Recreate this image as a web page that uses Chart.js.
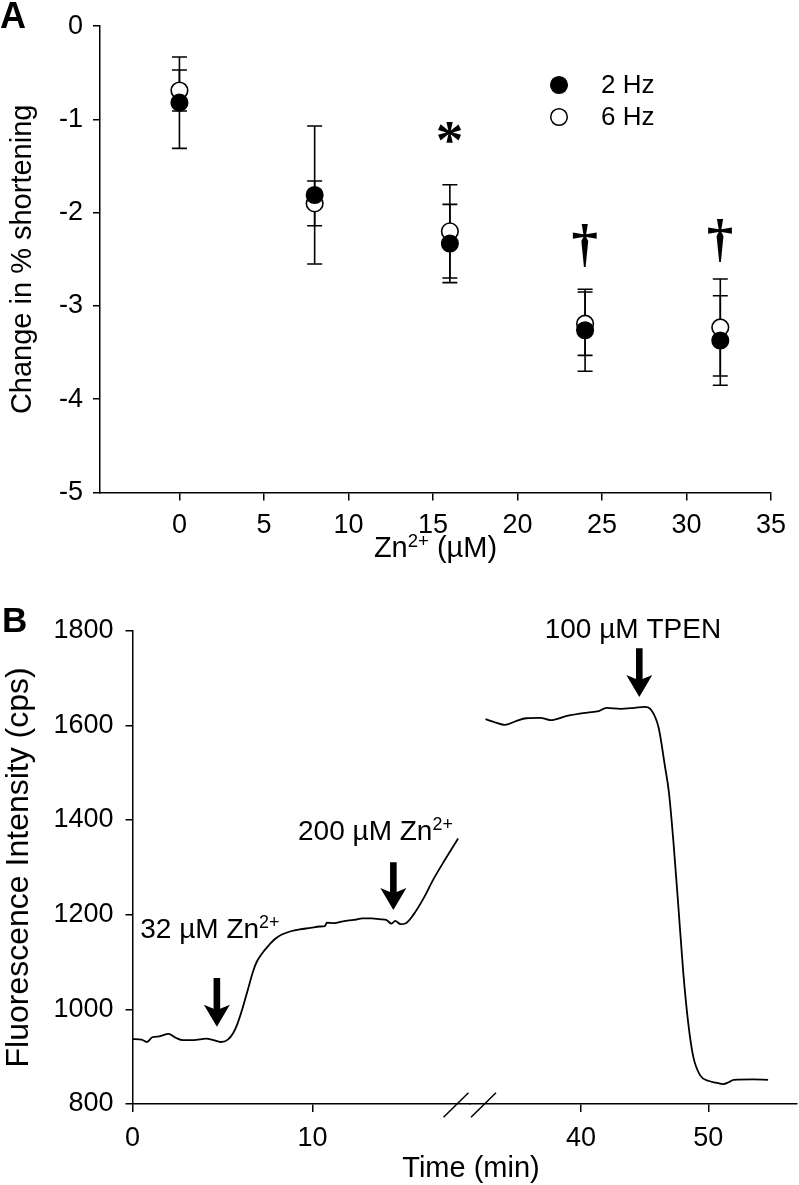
<!DOCTYPE html>
<html><head><meta charset="utf-8">
<script src="https://cdn.jsdelivr.net/npm/chart.js@4.4.1/dist/chart.umd.min.js"></script>
<style>
html,body{margin:0;padding:0;background:#fff;}
body{width:799px;height:1185px;position:relative;overflow:hidden;}
#wa{position:absolute;left:0;top:0;width:799px;height:580px;}
#wb{position:absolute;left:0;top:580px;width:799px;height:605px;}
</style></head><body>
<div id="wa"><canvas id="ca"></canvas></div>
<div id="wb"><canvas id="cb"></canvas></div>
<script>
// ---------- Panel A data ----------
const znConc = [0, 8, 16, 24, 32];
const shortening2Hz = [-0.82, -1.81, -2.33, -3.26, -3.37];
const err2Hz = [0.49, 0.74, 0.42, 0.44, 0.48];
const shortening6Hz = [-0.69, -1.90, -2.20, -3.19, -3.23];
const err6Hz = [0.22, 0.24, 0.50, 0.34, 0.52];
const xTicksA = [0, 5, 10, 15, 20, 25, 30, 35];
const yTicksA = [0, -1, -2, -3, -4, -5];
const seriesNames = ['2 Hz', '6 Hz'];
const markX = [16, 24, 32];
const markY = [-1.29, -2.35, -2.30];
const markText = ['*', '\u2020', '\u2020'];

// ---------- Panel B data ----------
const timeEarly = [0.0,0.5,0.8,1.1,1.5,2.0,2.4,2.8,3.4,4.1,4.5,4.9,5.3,5.6,5.8,6.1,6.4,6.7,6.9,7.2,7.5,7.9,8.3,8.8,9.3,9.9,10.4,10.7,10.8,11.2,11.7,12.3,12.8,13.3,13.8,14.1,14.4,14.6,14.9,15.2,15.6,16.2,16.7,17.4,18.1];
const fluorEarly = [937,936,931,941,943,948,940,935,935,938,935,931,936,950,966,1000,1040,1080,1100,1118,1132,1148,1158,1165,1169,1172,1175,1176,1183,1182,1186,1189,1192,1192,1190,1189,1181,1187,1180,1182,1199,1236,1273,1318,1361];
const timeLate = [32.5,33.3,34.0,34.9,35.7,36.8,37.6,38.9,40.5,41.4,42.0,43.1,44.2,45.0,45.5,46.1,46.6,46.9,47.25,47.65,48.04,48.43,48.82,49.35,50.0,50.6,51.2,51.6,52.0,53.5,54.7];
const fluorLate = [1613,1606,1601,1609,1615,1616,1611,1620,1627,1630,1637,1635,1637,1639,1633,1595,1513,1460,1358,1217,1076,970,900,861,849,845,842,846,851,852,851];
const xTicksEarly = [0, 10];
const xTicksLate = [40, 50];
const yTicksB = [800, 1000, 1200, 1400, 1600, 1800];
// arrows: axis, time, top value, tip value
const arrowAxis = ['xEarly', 'xEarly', 'xLate'];
const arrowTime = [4.69, 14.5, 44.58];
const arrowTop = [1066, 1311, 1763];
const arrowTip = [963, 1210, 1660];
// labels
const labelAxis = ['xEarly', 'xEarly', 'xLate'];
const labelTime = [0.43, 9.2, 44.08];
const labelValue = [1151, 1358, 1785];
const labelAlign = ['left', 'left', 'center'];
const labelParts = [
  [['32 \u00b5M Zn', false], ['2+', true]],
  [['200 \u00b5M Zn', false], ['2+', true]],
  [['100 \u00b5M TPEN', false]]
];

const FONT = "'Liberation Sans', Arial, Helvetica, sans-serif";
const SERIF = "'Liberation Serif', 'Times New Roman', serif";
Chart.defaults.font.family = FONT;
Chart.defaults.color = '#000';

function drawRich(ctx, parts, x, y, size, align) {
  const widths = parts.map(p => { ctx.font = (p[1] ? size * 0.64 : size) + 'px ' + FONT; return ctx.measureText(p[0]).width; });
  const total = widths.reduce((a, b) => a + b, 0);
  let cx = align === 'center' ? x - total / 2 : x;
  ctx.textAlign = 'left'; ctx.textBaseline = 'alphabetic'; ctx.fillStyle = '#000';
  parts.forEach((p, i) => {
    ctx.font = (p[1] ? size * 0.64 : size) + 'px ' + FONT;
    ctx.fillText(p[0], cx, p[1] ? y - size * 0.34 : y);
    cx += widths[i];
  });
}
function drawGlyph(ctx, ch, cx, cy, h, family) {
  ctx.font = 'bold 100px ' + family;
  const m = ctx.measureText(ch);
  const gh = m.actualBoundingBoxAscent + m.actualBoundingBoxDescent;
  const size = 100 * h / gh;
  ctx.font = 'bold ' + size + 'px ' + family;
  const m2 = ctx.measureText(ch);
  ctx.textAlign = 'left'; ctx.textBaseline = 'alphabetic';
  const x = cx - (m2.actualBoundingBoxRight - m2.actualBoundingBoxLeft) / 2;
  const y = cy - (m2.actualBoundingBoxDescent - m2.actualBoundingBoxAscent) / 2;
  ctx.fillText(ch, x, y);
}
function fixedTicks(arr) { return s => { s.ticks = arr.map(v => ({ value: v })); }; }
const plainLabel = v => String(v);
const gridStyle = (len) => ({ drawOnChartArea: false, tickLength: len, color: '#000', lineWidth: 1.5 });
const borderStyle = { color: '#000', width: 1.5 };

// ---------- Panel A ----------
const errorBars = {
  id: 'errorBars',
  beforeDatasetsDraw(chart) {
    const { ctx, scales: { x, y } } = chart;
    ctx.save(); ctx.strokeStyle = '#000'; ctx.lineWidth = 1.6;
    chart.data.datasets.forEach(ds => {
      ds.data.forEach((p, i) => {
        const e = ds.errors[i];
        const px = x.getPixelForValue(p.x);
        const t = y.getPixelForValue(p.y + e), b = y.getPixelForValue(p.y - e);
        ctx.beginPath();
        ctx.moveTo(px, t); ctx.lineTo(px, b);
        ctx.moveTo(px - 7.5, t); ctx.lineTo(px + 7.5, t);
        ctx.moveTo(px - 7.5, b); ctx.lineTo(px + 7.5, b);
        ctx.stroke();
      });
    });
    ctx.restore();
  }
};
const annotA = {
  id: 'annotA',
  afterDraw(chart) {
    const { ctx, scales: { x, y }, chartArea } = chart;
    ctx.save();
    ctx.fillStyle = '#000';
    ctx.font = 'bold 36px ' + FONT; ctx.textAlign = 'left'; ctx.textBaseline = 'alphabetic';
    ctx.fillText('A', 0, 28);
    // legend
    const ly = [85, 117];
    chart.data.datasets.forEach((ds, i) => {
      ctx.beginPath(); ctx.arc(559, ly[i], 8.3, 0, Math.PI * 2);
      ctx.fillStyle = ds.pointBackgroundColor; ctx.fill();
      ctx.lineWidth = 1.5; ctx.strokeStyle = '#000'; ctx.stroke();
      ctx.fillStyle = '#000'; ctx.font = '26px ' + FONT; ctx.textBaseline = 'middle';
      ctx.fillText(ds.label, 601, ly[i] + 1);
    });
    // significance marks
    markX.forEach((mx, i) => {
      const h = markText[i] === '*' ? 21 : 43;
      drawGlyph(ctx, markText[i], x.getPixelForValue(mx), y.getPixelForValue(markY[i]), h, SERIF);
    });
    // x title
    drawRich(ctx, [['Zn', false], ['2+', true], [' (\u00b5M)', false]], (chartArea.left + chartArea.right) / 2, 557, 29, 'center');
    ctx.restore();
  }
};
new Chart(document.getElementById('ca'), {
  type: 'scatter',
  data: {
    datasets: [
      { label: seriesNames[0], data: znConc.map((v, i) => ({ x: v, y: shortening2Hz[i] })), errors: err2Hz,
        pointBackgroundColor: '#000', pointBorderColor: '#000', pointRadius: 8.3, pointBorderWidth: 1.5, pointHoverRadius: 8.3 },
      { label: seriesNames[1], data: znConc.map((v, i) => ({ x: v, y: shortening6Hz[i] })), errors: err6Hz,
        pointBackgroundColor: '#fff', pointBorderColor: '#000', pointRadius: 8.3, pointBorderWidth: 1.6, pointHoverRadius: 8.3 }
    ]
  },
  options: {
    responsive: true, maintainAspectRatio: false, animation: false, events: [],
    layout: { padding: { top: 15, right: 28, left: 0, bottom: 0 } },
    plugins: { legend: { display: false }, tooltip: { enabled: false } },
    scales: {
      x: { type: 'linear', min: -4.7, max: 35, afterBuildTicks: fixedTicks(xTicksA), afterFit: s => { s.height = 87.5; },
           grid: gridStyle(8), border: borderStyle, ticks: { font: { size: 27 }, padding: 9, color: '#000', maxRotation: 0, callback: plainLabel } },
      y: { type: 'linear', min: -5, max: 0, afterBuildTicks: fixedTicks(yTicksA), afterFit: s => { s.width = 100; },
           grid: gridStyle(7), border: borderStyle, ticks: { font: { size: 27 }, padding: 10, color: '#000', callback: plainLabel },
           title: { display: true, text: 'Change in % shortening', font: { size: 29 }, color: '#000', padding: { top: 6, bottom: 0 } } }
    }
  },
  plugins: [errorBars, annotA]
});

// ---------- Panel B ----------
const annotB = {
  id: 'annotB',
  afterDraw(chart) {
    const { ctx, scales, chartArea } = chart;
    const y = scales.y;
    ctx.save();
    ctx.fillStyle = '#000';
    ctx.font = 'bold 35px ' + FONT; ctx.textAlign = 'left'; ctx.textBaseline = 'alphabetic';
    ctx.fillText('B', 2, 52);
    // arrows
    arrowTime.forEach((t, i) => {
      const px = scales[arrowAxis[i]].getPixelForValue(t);
      const top = y.getPixelForValue(arrowTop[i]), tip = y.getPixelForValue(arrowTip[i]);
      const hw = 13, hl = 22, sw = 3.3;
      ctx.beginPath();
      ctx.moveTo(px - sw, top); ctx.lineTo(px + sw, top);
      ctx.lineTo(px + sw, tip - hl + 4); ctx.lineTo(px + hw, tip - hl);
      ctx.lineTo(px, tip); ctx.lineTo(px - hw, tip - hl);
      ctx.lineTo(px - sw, tip - hl + 4); ctx.closePath();
      ctx.fill();
    });
    // labels
    labelTime.forEach((t, i) => {
      drawRich(ctx, labelParts[i], scales[labelAxis[i]].getPixelForValue(t), y.getPixelForValue(labelValue[i]), 28, labelAlign[i]);
    });
    // axis break marks
    const bx = scales.xEarly.right, by = chartArea.bottom + 1;
    ctx.strokeStyle = '#000'; ctx.lineWidth = 1.5;
    [-14, 13.5].forEach(d => {
      ctx.beginPath(); ctx.moveTo(bx + d - 12.5, by + 12.3); ctx.lineTo(bx + d + 12.5, by - 12.3); ctx.stroke();
    });
    // x title
    drawRich(ctx, [['Time (min)', false]], 471, 597, 29, 'center');
    ctx.restore();
  }
};
const xCommon = (w, min, max, ticks) => ({
  type: 'linear', position: 'bottom', stack: 'time', stackWeight: w, min: min, max: max,
  afterBuildTicks: fixedTicks(ticks), afterFit: s => { s.height = 81; },
  grid: gridStyle(8), border: borderStyle, ticks: { font: { size: 27 }, padding: 10, color: '#000', maxRotation: 0, callback: plainLabel }
});
new Chart(document.getElementById('cb'), {
  type: 'scatter',
  data: {
    datasets: [
      { data: timeEarly.map((t, i) => ({ x: t, y: fluorEarly[i] })), xAxisID: 'xEarly', yAxisID: 'y', showLine: true,
        borderColor: '#000', borderWidth: 1.8, pointRadius: 0, cubicInterpolationMode: 'monotone', fill: false },
      { data: timeLate.map((t, i) => ({ x: t, y: fluorLate[i] })), xAxisID: 'xLate', yAxisID: 'y', showLine: true,
        borderColor: '#000', borderWidth: 1.8, pointRadius: 0, cubicInterpolationMode: 'monotone', fill: false }
    ]
  },
  options: {
    responsive: true, maintainAspectRatio: false, animation: false, events: [],
    layout: { padding: { top: 50.7, right: 2, left: 0, bottom: 0 } },
    plugins: { legend: { display: false }, tooltip: { enabled: false } },
    scales: {
      xEarly: xCommon(337.5, 0, 18.76, xTicksEarly),
      xLate: xCommon(327, 31.28, 56.97, xTicksLate),
      y: { type: 'linear', position: 'left', min: 800, max: 1800, afterBuildTicks: fixedTicks(yTicksB), afterFit: s => { s.width = 132.5; },
           grid: gridStyle(7), border: borderStyle, ticks: { font: { size: 27 }, padding: 12, color: '#000', callback: plainLabel },
           title: { display: true, text: 'Fluorescence Intensity (cps)', font: { size: 32 }, color: '#000', padding: { top: 0, bottom: 0 } } }
    }
  },
  plugins: [annotB]
});
</script>
</body></html>
